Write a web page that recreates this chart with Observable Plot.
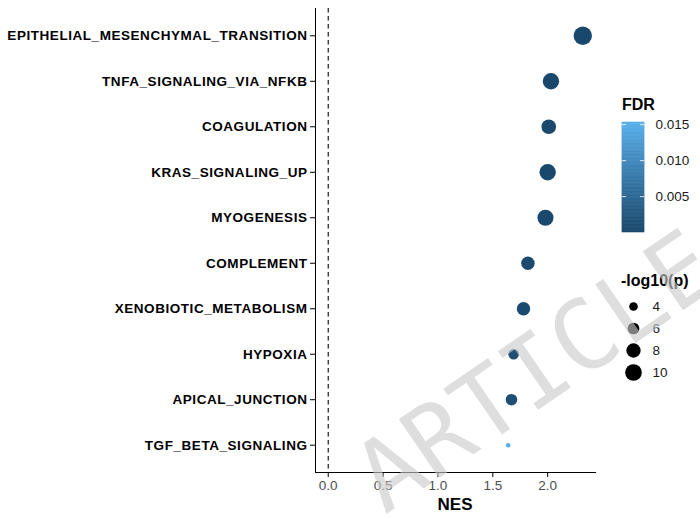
<!DOCTYPE html>
<html>
<head>
<meta charset="utf-8">
<script src="https://cdn.jsdelivr.net/npm/d3@7"></script>
<script src="https://cdn.jsdelivr.net/npm/@observablehq/plot@0.6"></script>
<style>
  html, body { margin: 0; padding: 0; background: #fff; }
  #wrap { position: relative; width: 700px; height: 519px; overflow: hidden; font-family: "Liberation Sans", Arial, sans-serif; }
  #wrap svg { position: absolute; overflow: visible; }
  .main g[aria-label="y-axis tick label"] text { font-weight: bold; font-size: 13.5px; letter-spacing: 0.55px; fill: #000; }
  .main g[aria-label="x-axis tick label"] text { font-size: 13.5px; fill: #4d4d4d; }
  .main g[aria-label="y-axis tick"] path, .main g[aria-label="x-axis tick"] path { stroke: #000; }
  .leg g[aria-label="y-axis tick label"] text { font-size: 13.5px; fill: #1a1a1a; }
  .ttl { position: absolute; font-weight: bold; color: #000; white-space: nowrap; }
  #wm { position: absolute; left: 0; top: 0; pointer-events: none; }
</style>
</head>
<body>
<div id="wrap"></div>
<script>
// ---- data ----
const pathways = [
  "EPITHELIAL_MESENCHYMAL_TRANSITION",
  "TNFA_SIGNALING_VIA_NFKB",
  "COAGULATION",
  "KRAS_SIGNALING_UP",
  "MYOGENESIS",
  "COMPLEMENT",
  "XENOBIOTIC_METABOLISM",
  "HYPOXIA",
  "APICAL_JUNCTION",
  "TGF_BETA_SIGNALING"
];
const nes  = [2.32, 2.03, 2.01, 2.00, 1.98, 1.82, 1.78, 1.69, 1.67, 1.64];
const logp = [11.7, 9.8, 8.25, 9.8, 9.5, 7.3, 7.3, 5.25, 5.9, 2.0];
const fdr  = [0.00001, 0.00001, 0.0001, 0.00001, 0.0001, 0.0003, 0.0004, 0.0012, 0.0010, 0.0153];
const xTicks = [0, 0.5, 1.0, 1.5, 2.0];
const fdrTicks = [0.005, 0.010, 0.015];
const sizeBreaks = [4, 6, 8, 10];

const data = pathways.map((p, i) => ({pathway: p, nes: nes[i], logp: logp[i], fdr: fdr[i]}));

const fdrDomain = [d3.min(fdr), d3.max(fdr)];
const logpDomain = [d3.min(logp), d3.max(logp)];
const xDomain = [-0.116, 2.436];
const colorRange = ["#1a486c", "#58b0ec"];
const rRange = [2.3, 9.2];

const wrap = document.getElementById("wrap");

// ---- main panel ----
const main = Plot.plot({
  width: 600, height: 519,
  marginLeft: 315, marginRight: 5, marginTop: 8, marginBottom: 47,
  style: {background: "transparent", fontFamily: "Liberation Sans, Arial, sans-serif", overflow: "visible"},
  x: {domain: xDomain, ticks: xTicks, tickFormat: d3.format(".1f"), label: null, line: true, tickSize: 5, tickPadding: 3},
  y: {type: "point", domain: pathways, padding: 0.6, round: false, label: null, line: true, tickSize: 5, tickPadding: 3},
  r: {type: "sqrt", domain: logpDomain, range: rRange},
  color: {type: "linear", domain: fdrDomain, range: colorRange, interpolate: "lab"},
  marks: [
    Plot.ruleX([0], {stroke: "#000", strokeWidth: 1.1, strokeDasharray: "4.5,3.5"}),
    Plot.dot(data, {x: "nes", y: "pathway", r: "logp", fill: "fdr"})
  ]
});
main.classList.add("main");
main.style.left = "0px"; main.style.top = "0px";
wrap.appendChild(main);

// x title
const nesT = document.createElement("div");
nesT.className = "ttl"; nesT.textContent = "NES";
nesT.style.fontSize = "17px";
nesT.style.left = "455px"; nesT.style.top = "495px"; nesT.style.transform = "translateX(-50%)";
wrap.appendChild(nesT);

// ---- FDR colorbar ----
const fdrT = document.createElement("div");
fdrT.className = "ttl"; fdrT.textContent = "FDR";
fdrT.style.fontSize = "16px"; fdrT.style.left = "622px"; fdrT.style.top = "96px";
wrap.appendChild(fdrT);

const nSteps = 80;
const ramp = d3.range(nSteps).map(i => fdrDomain[0] + (fdrDomain[1] - fdrDomain[0]) * i / nSteps);
const stepH = (fdrDomain[1] - fdrDomain[0]) / nSteps;
const cbar = Plot.plot({
  width: 80, height: 120,
  marginLeft: 0, marginRight: 58, marginTop: 5, marginBottom: 5,
  style: {background: "transparent", fontFamily: "Liberation Sans, Arial, sans-serif", overflow: "visible"},
  y: {domain: fdrDomain, ticks: fdrTicks, tickFormat: d3.format(".3f"), label: null, axis: "right", tickSize: 0, tickPadding: 11},
  color: {type: "linear", domain: fdrDomain, range: colorRange, interpolate: "lab"},
  marks: [
    Plot.rect(ramp, {y1: d => d, y2: d => Math.min(d + stepH * 1.02, fdrDomain[1]), fill: d => d, stroke: d => d, strokeWidth: 0.6}),
    Plot.tickY(fdrTicks.filter(t => t <= fdrDomain[1]), {y: d => d, stroke: "#fff", strokeOpacity: 0.8, insetRight: 18}),
    Plot.tickY(fdrTicks.filter(t => t <= fdrDomain[1]), {y: d => d, stroke: "#fff", strokeOpacity: 0.8, insetLeft: 18})
  ]
});
cbar.classList.add("leg");
cbar.style.left = "622px"; cbar.style.top = "117px";
wrap.appendChild(cbar);

// ---- size legend ----
const szT = document.createElement("div");
szT.className = "ttl"; szT.textContent = "-log10(p)";
szT.style.fontSize = "16px"; szT.style.left = "621px"; szT.style.top = "272px";
wrap.appendChild(szT);

const sleg = Plot.plot({
  width: 80, height: 86,
  marginLeft: 0, marginRight: 58, marginTop: 10, marginBottom: 10,
  style: {background: "transparent", fontFamily: "Liberation Sans, Arial, sans-serif", overflow: "visible"},
  y: {type: "point", domain: sizeBreaks, padding: 0, round: false, label: null, axis: "right", tickSize: 0, tickPadding: 8},
  r: {type: "sqrt", domain: logpDomain, range: rRange},
  marks: [
    Plot.dot(sizeBreaks, {y: d => d, r: d => d, fill: "#000"})
  ]
});
sleg.classList.add("leg");
sleg.style.left = "622px"; sleg.style.top = "296px";
wrap.appendChild(sleg);

// ---- watermark overlay ----
const NS = "http://www.w3.org/2000/svg";
const wm = document.createElementNS(NS, "svg");
wm.setAttribute("id", "wm"); wm.setAttribute("width", 700); wm.setAttribute("height", 519);
const wt = document.createElementNS(NS, "text");
wt.setAttribute("x", 0); wt.setAttribute("y", 0);
wt.setAttribute("transform", "translate(385,515) rotate(-34.5)");
wt.setAttribute("font-family", "DejaVu Sans Mono, Liberation Mono, monospace");
wt.setAttribute("font-size", 97.5);
wt.setAttribute("fill", "#c9c9c9");
wt.setAttribute("fill-opacity", 0.62);
wt.textContent = "ARTICLE IN PRESS";
wm.appendChild(wt);
wrap.appendChild(wm);
</script>
</body>
</html>
